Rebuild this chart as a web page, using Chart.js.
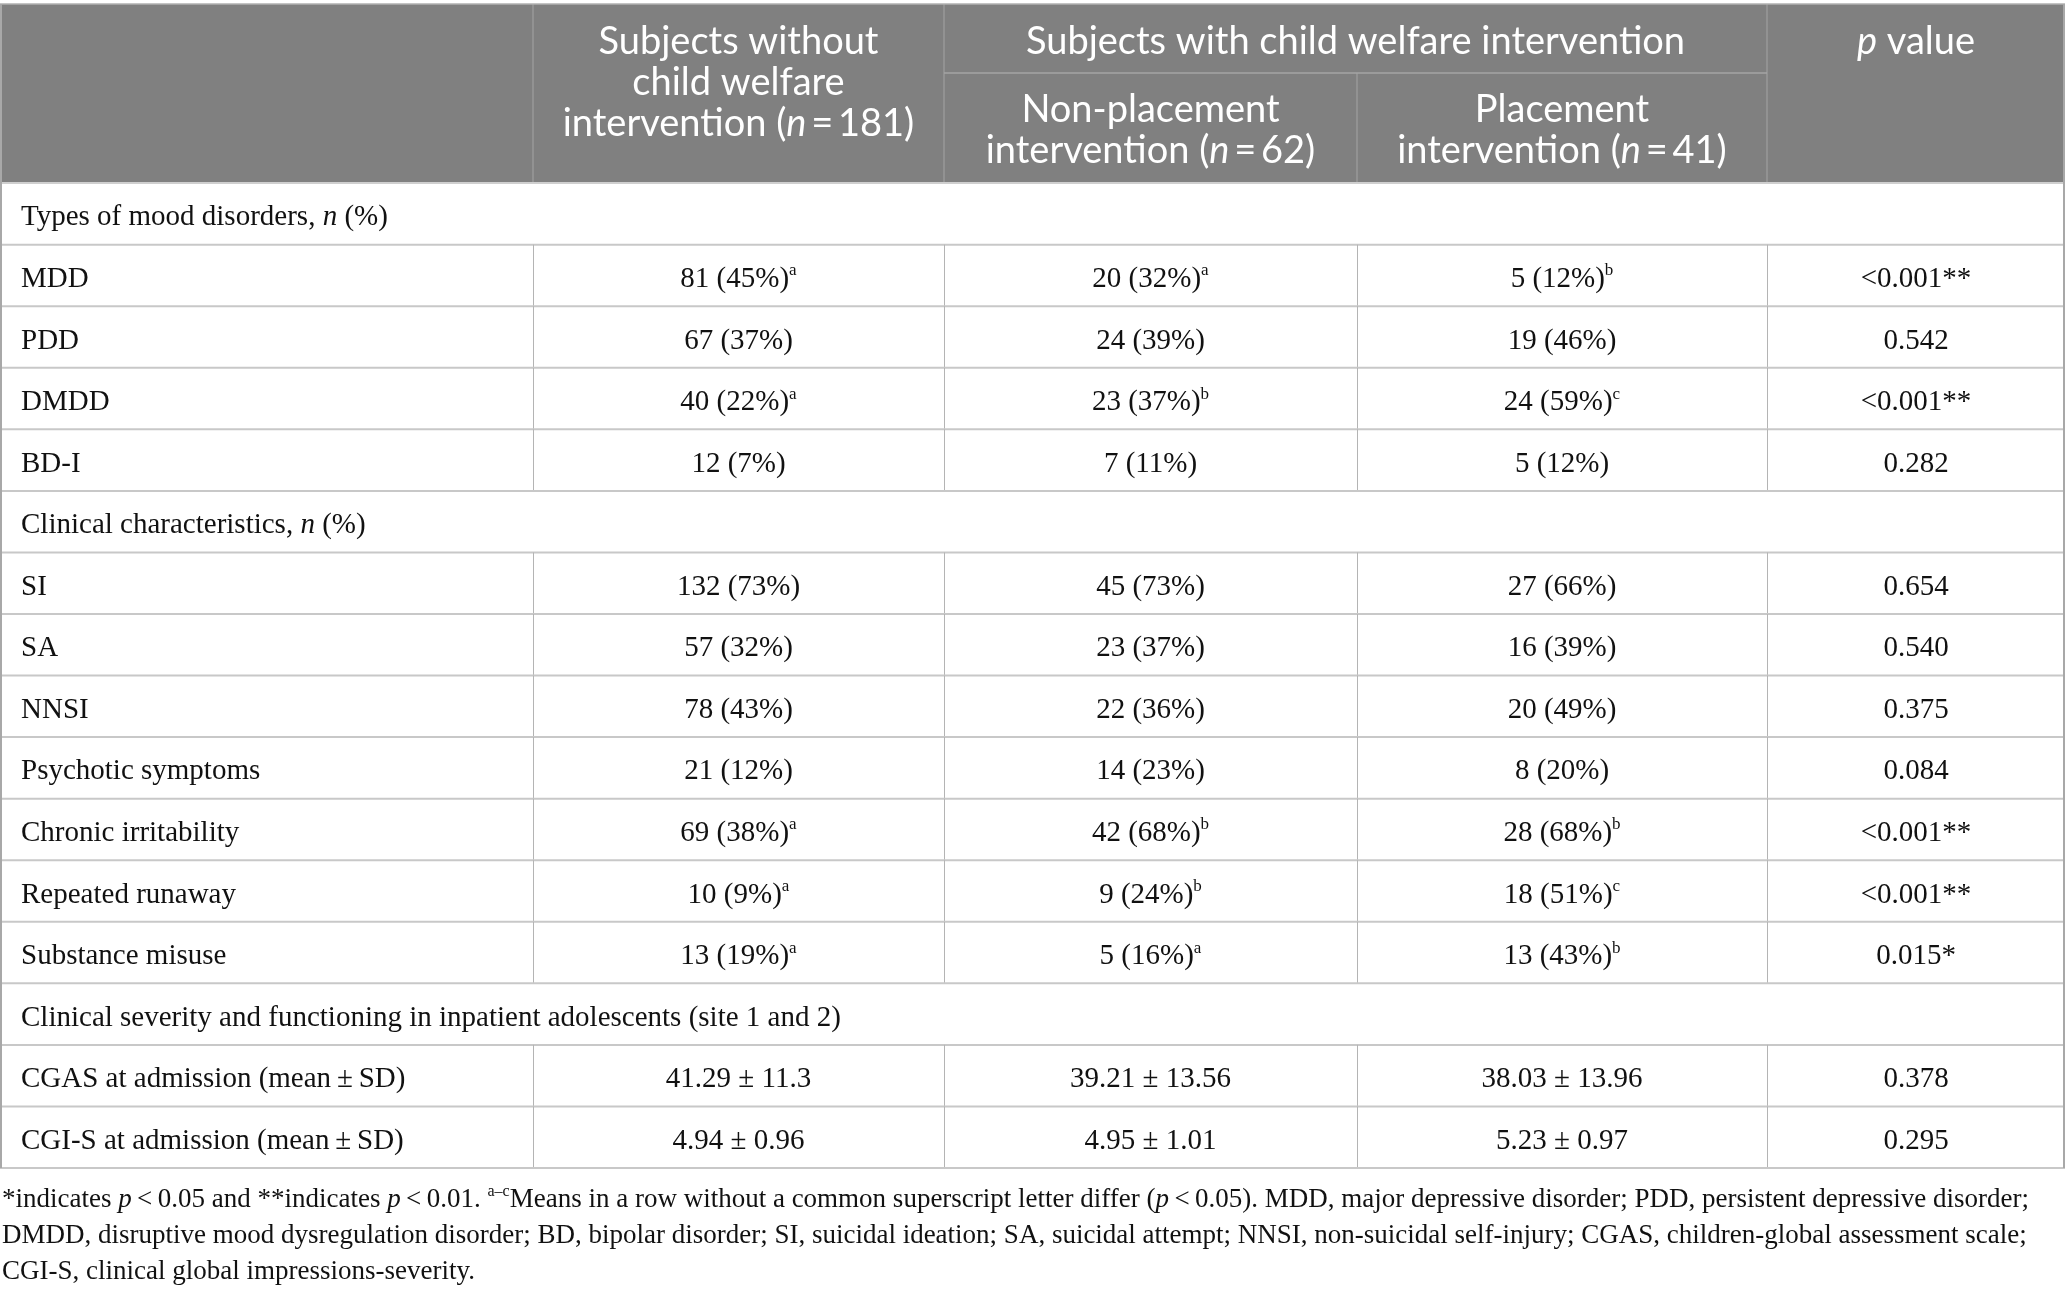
<!DOCTYPE html>
<html>
<head>
<meta charset="utf-8">
<script src="https://cdn.jsdelivr.net/npm/chart.js@4.4.1/dist/chart.umd.min.js"></script>
<style>
  html, body { margin: 0; padding: 0; background: #ffffff; }
  #table { display: block; }
</style>
</head>
<body>
<canvas id="table" width="2065" height="1295" style="width:2065px;height:1295px"></canvas>
<script>
"use strict";

// {i:..} = italic, {s:..} = superscript
const rowLabels = [
    "Types of mood disorders, {i:n} (%)",
    "MDD",
    "PDD",
    "DMDD",
    "BD-I",
    "Clinical characteristics, {i:n} (%)",
    "SI",
    "SA",
    "NNSI",
    "Psychotic symptoms",
    "Chronic irritability",
    "Repeated runaway",
    "Substance misuse",
    "Clinical severity and functioning in inpatient adolescents (site 1 and 2)",
    "CGAS at admission (mean\u2009±\u2009SD)",
    "CGI-S at admission (mean\u2009±\u2009SD)"
];

const withoutIntervention = [
    null, "81 (45%){s:a}", "67 (37%)", "40 (22%){s:a}", "12 (7%)",
    null, "132 (73%)", "57 (32%)", "78 (43%)", "21 (12%)", "69 (38%){s:a}", "10 (9%){s:a}", "13 (19%){s:a}",
    null, "41.29 ± 11.3", "4.94 ± 0.96"
];

const nonPlacement = [
    null, "20 (32%){s:a}", "24 (39%)", "23 (37%){s:b}", "7 (11%)",
    null, "45 (73%)", "23 (37%)", "22 (36%)", "14 (23%)", "42 (68%){s:b}", "9 (24%){s:b}", "5 (16%){s:a}",
    null, "39.21 ± 13.56", "4.95 ± 1.01"
];

const placement = [
    null, "5 (12%){s:b}", "19 (46%)", "24 (59%){s:c}", "5 (12%)",
    null, "27 (66%)", "16 (39%)", "20 (49%)", "8 (20%)", "28 (68%){s:b}", "18 (51%){s:c}", "13 (43%){s:b}",
    null, "38.03 ± 13.96", "5.23 ± 0.97"
];

const pValues = [
    null, "<0.001**", "0.542", "<0.001**", "0.282",
    null, "0.654", "0.540", "0.375", "0.084", "<0.001**", "<0.001**", "0.015*",
    null, "0.378", "0.295"
];

const headerWithout = ["Subjects without", "child welfare", "intervention ({i:n}\u2009=\u2009181)"];
const headerGroup = "Subjects with child welfare intervention";
const headerNonPlacement = ["Non-placement", "intervention ({i:n}\u2009=\u200962)"];
const headerPlacement = ["Placement", "intervention ({i:n}\u2009=\u200941)"];
const headerP = "{i:p} value";

const footnotes = [
    "*indicates {i:p}\u2009<\u20090.05 and **indicates {i:p}\u2009<\u20090.01. {s:a\u2013c}Means in a row without a common superscript letter differ ({i:p}\u2009<\u20090.05). MDD, major depressive disorder; PDD, persistent depressive disorder;",
    "DMDD, disruptive mood dysregulation disorder; BD, bipolar disorder; SI, suicidal ideation; SA, suicidal attempt; NNSI, non-suicidal self-injury; CGAS, children-global assessment scale;",
    "CGI-S, clinical global impressions-severity."
];

// layout
const colWidths = [533, 411, 413, 410, 298];
const colEdges = colWidths.reduce((a, w) => { a.push(a[a.length - 1] + w); return a; }, [0]);
const tableWidth = colEdges[colEdges.length - 1];
const colCenter = i => (colEdges[i] + colEdges[i + 1]) / 2;
const labelInset = 21;
const headerUnits = 2.91;

const serif = '"Liberation Serif", "Times New Roman", serif';
const sans = 'Lato, "Open Sans", sans-serif';

const isSection = i => withoutIntervention[i] === null;

function parseRich(text) {
    const runs = [];
    const re = /\{(i|s):([^}]*)\}/g;
    let last = 0, m;
    while ((m = re.exec(text)) !== null) {
        if (m.index > last) runs.push({ t: text.slice(last, m.index), k: "n" });
        runs.push({ t: m[2], k: m[1] });
        last = re.lastIndex;
    }
    if (last < text.length) runs.push({ t: text.slice(last), k: "n" });
    return runs;
}

function drawRich(ctx, text, x, y, align, size, family, color, weight) {
    const runs = parseRich(text);
    const w = weight || 400;
    const fontFor = k => k === "i" ? `italic ${w} ${size}px ${family}`
        : k === "s" ? `${w} ${Math.round(size * 0.6)}px ${family}`
        : `${w} ${size}px ${family}`;
    let total = 0;
    runs.forEach(r => { ctx.font = fontFor(r.k); r.w = ctx.measureText(r.t).width; total += r.w; });
    let cx = align === "center" ? x - total / 2 : align === "right" ? x - total : x;
    ctx.fillStyle = color;
    ctx.textAlign = "left";
    ctx.textBaseline = "alphabetic";
    runs.forEach(r => {
        ctx.font = fontFor(r.k);
        const dy = r.k === "s" ? -size * 0.4 : 0;
        ctx.fillText(r.t, cx, y + size * 0.33 + dy);
        cx += r.w;
    });
}

function hLine(ctx, x1, x2, y, color, width) {
    ctx.beginPath();
    ctx.strokeStyle = color;
    ctx.lineWidth = width;
    ctx.moveTo(x1, y);
    ctx.lineTo(x2, y);
    ctx.stroke();
}

function vLine(ctx, x, y1, y2, color, width) {
    ctx.beginPath();
    ctx.strokeStyle = color;
    ctx.lineWidth = width;
    ctx.moveTo(x, y1);
    ctx.lineTo(x, y2);
    ctx.stroke();
}

const tablePlugin = {
    id: "tablePlugin",
    beforeDatasetsDraw(chart) {
        const { ctx, scales: { x, y } } = chart;
        const left = x.getPixelForValue(0), right = x.getPixelForValue(tableWidth);
        const top = y.getPixelForValue(-headerUnits), headBottom = y.getPixelForValue(0);
        const bottom = y.getPixelForValue(rowLabels.length);
        ctx.save();

        // header block
        ctx.fillStyle = "#808080";
        ctx.fillRect(left, top, right - left, headBottom - top);
        const subLine = top + 69;
        hLine(ctx, x.getPixelForValue(colEdges[2]), x.getPixelForValue(colEdges[4]), subLine, "#a4a4a4", 1.5);
        [1, 2, 4].forEach(c => vLine(ctx, x.getPixelForValue(colEdges[c]), top, headBottom, "#a4a4a4", 1));
        vLine(ctx, x.getPixelForValue(colEdges[3]), subLine, headBottom, "#a4a4a4", 1);
        hLine(ctx, left, right, top, "#b0b0b0", 1.5);

        // body grid
        for (let i = 0; i < rowLabels.length; i++) {
            const y0 = y.getPixelForValue(i), y1 = y.getPixelForValue(i + 1);
            if (!isSection(i)) {
                for (let c = 1; c < colEdges.length - 1; c++) {
                    vLine(ctx, Math.round(x.getPixelForValue(colEdges[c])) + 0.5, y0, y1, "#b4b4b4", 1);
                }
            }
            hLine(ctx, left, right, y1, "#c8c8c8", 2);
        }
        hLine(ctx, left, right, headBottom, "#cfcfcf", 2);
        vLine(ctx, left + 1, top, bottom, "#a8a8a8", 2);
        vLine(ctx, right - 1, top, bottom, "#a8a8a8", 2);

        // header text
        const hs = 38, lh = 41, hw = 400;
        headerWithout.forEach((t, k) => drawRich(ctx, t, x.getPixelForValue(colCenter(1)), top + 37 + k * lh, "center", hs, sans, "#ffffff", hw));
        drawRich(ctx, headerGroup, x.getPixelForValue(colEdges[2] + (colEdges[4] - colEdges[2]) / 2), top + 37, "center", hs, sans, "#ffffff", hw);
        headerNonPlacement.forEach((t, k) => drawRich(ctx, t, x.getPixelForValue(colCenter(2)), top + 105 + k * lh, "center", hs, sans, "#ffffff", hw));
        headerPlacement.forEach((t, k) => drawRich(ctx, t, x.getPixelForValue(colCenter(3)), top + 105 + k * lh, "center", hs, sans, "#ffffff", hw));
        drawRich(ctx, headerP, x.getPixelForValue(colCenter(4)), top + 37, "center", hs, sans, "#ffffff", hw);

        // footnotes
        footnotes.forEach((t, k) => drawRich(ctx, t, left + 2, bottom + 30 + k * 36, "left", 27, serif, "#111111"));
        ctx.restore();
    },
    afterDatasetsDraw(chart) {
        const { ctx } = chart;
        ctx.save();
        chart.data.datasets.forEach((ds, di) => {
            const meta = chart.getDatasetMeta(di);
            meta.data.forEach((el, k) => {
                drawRich(ctx, ds.texts[k], el.x, el.y + 2, ds.align, 29, serif, "#111111");
            });
        });
        ctx.restore();
    }
};

function columnDataset(values, xValue, align) {
    const pts = [], texts = [];
    values.forEach((v, i) => {
        if (v === null) return;
        pts.push({ x: xValue, y: i + 0.5 });
        texts.push(v);
    });
    return { data: pts, texts: texts, align: align, pointRadius: 0, showLine: false };
}

const ctx = document.getElementById("table");

new Chart(ctx, {
    type: "scatter",
    data: {
        datasets: [
            columnDataset(rowLabels, labelInset, "left"),
            columnDataset(withoutIntervention, colCenter(1), "center"),
            columnDataset(nonPlacement, colCenter(2), "center"),
            columnDataset(placement, colCenter(3), "center"),
            columnDataset(pValues, colCenter(4), "center")
        ]
    },
    options: {
        responsive: false,
        animation: false,
        devicePixelRatio: 1,
        layout: { padding: { top: 4, bottom: 127, left: 0, right: 0 } },
        scales: {
            x: { type: "linear", display: false, min: 0, max: tableWidth },
            y: { type: "linear", display: false, reverse: true, min: -headerUnits, max: rowLabels.length }
        },
        plugins: {
            legend: { display: false },
            tooltip: { enabled: false }
        },
        events: []
    },
    plugins: [tablePlugin]
});
</script>
</body>
</html>
